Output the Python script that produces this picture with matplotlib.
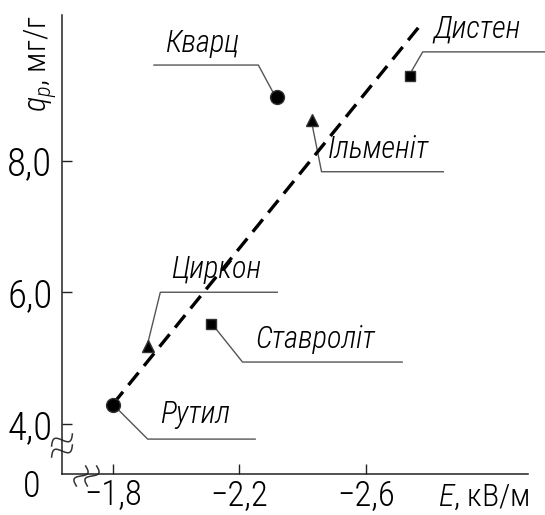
import numpy as np
import matplotlib
matplotlib.use("Agg")
import matplotlib.pyplot as plt

plt.rcParams['font.family'] = ['Roboto Condensed', 'DejaVu Sans']
plt.rcParams['font.weight'] = 300
plt.rcParams['mathtext.fontset'] = 'custom'
plt.rcParams['mathtext.it'] = 'Roboto Condensed:italic:light'
plt.rcParams['mathtext.rm'] = 'Roboto Condensed:light'

# data
minerals = ['Рутил', 'Циркон', 'Ставроліт', 'Кварц', 'Ільменіт', 'Дистен']
field_E = [-1.80, -1.91, -2.11, -2.32, -2.43, -2.74]
charge_q = [4.29, 5.18, 5.52, 8.97, 8.62, 9.29]
markers = ['o', '^', 's', 'o', '^', 's']

trend_E = [-1.80, -2.78]
trend_q = [4.30, 10.10]

x_ticks = [-1.8, -2.2, -2.6]
x_tick_labels = ['−1,8', '−2,2', '−2,6']
y_ticks = [4.0, 6.0, 8.0]
y_tick_labels = ['4,0', '6,0', '8,0']

# label layout: (text x, text y, elbow x, line end x, line y, point end x, point end y)
label_layout = {
    'Кварц':     (-1.965, 9.56, -2.26, -1.93, 9.45, -2.305, 9.05),
    'Дистен':    (-2.815, 9.77, -2.78, -3.17, 9.65, -2.745, 9.36),
    'Ільменіт':  (-2.48, 7.94, -2.46, -2.845, 7.83, -2.43, 8.55),
    'Циркон':    (-1.985, 6.12, -1.95, -2.32, 6.00, -1.91, 5.22),
    'Ставроліт': (-2.25, 5.06, -2.21, -2.715, 4.94, -2.12, 5.48),
    'Рутил':     (-1.95, 3.92, -1.91, -2.25, 3.77, -1.81, 4.25),
}

fig = plt.figure(figsize=(5.45, 5.15), dpi=100)
ax = fig.add_axes([62 / 545, 1 - 474 / 515, 466 / 545, 459 / 515])
ax.set_xlim(-1.639, -3.113)
ax.set_ylim(3.24, 10.21)

for s in ['top', 'right']:
    ax.spines[s].set_visible(False)
for s in ['left', 'bottom']:
    ax.spines[s].set_linewidth(1.1)
    ax.spines[s].set_color('#222222')

ax.set_xticks(x_ticks)
ax.set_xticklabels(x_tick_labels)
ax.set_yticks(y_ticks)
ax.set_yticklabels(y_tick_labels)
ax.tick_params(direction='in', length=7, width=1, color='#222222')
ax.tick_params(axis='x', pad=3, labelsize=25)
ax.tick_params(axis='y', pad=7, labelsize=28)

# trend line
ax.plot(trend_E, trend_q, color='black', lw=2.4, dashes=(4.8, 2.6), zorder=3)

# leader lines and labels
for name, (tx, ty, ex, lx, ly, px, py) in label_layout.items():
    ax.plot([px, ex, lx], [py, ly, ly], color='#555555', lw=1.0, zorder=2, clip_on=False)
    ax.text(tx, ty, name, fontsize=22, style='italic', ha='left', va='bottom')

# points
for e, q, m in zip(field_E, charge_q, markers):
    size = {'o': 10, '^': 9, 's': 7.5}[m]
    ax.plot(e, q, marker=m, ms=size, color='black', mec='#333333', mew=1, ls='none', zorder=4)

# axis labels
ax.text(-0.045, 1.0, '$q_p$, мг/г', transform=ax.transAxes, rotation=90,
        fontsize=23, ha='center', va='top')
ax.text((438 - 62) / 466, -0.05, '$E$, кВ/м', transform=ax.transAxes,
        fontsize=23, ha='left', va='center')
ax.text(-0.064, -0.028, '0', transform=ax.transAxes, fontsize=26, ha='center', va='center')


# break marks drawn in pixel space
def squiggle(cx, cy, angle, length=24, amp=5):
    t = np.linspace(-1, 1, 40)
    u = np.array([np.cos(np.radians(angle)), np.sin(np.radians(angle))])
    n = np.array([-u[1], u[0]])
    px = cx + t * length / 2 * u[0] + amp * np.sin(np.pi * t) * n[0]
    py = cy + t * length / 2 * u[1] + amp * np.sin(np.pi * t) * n[1]
    ax.plot((px - 62) / 466, (474 - py) / 459, transform=ax.transAxes,
            color='#333333', lw=1.1, clip_on=False)


squiggle(62, 440, -30)
squiggle(62, 451, -30)
squiggle(81, 476, -65, length=22)
squiggle(92, 476, -65, length=22)

fig.savefig('out.png', dpi=100)
